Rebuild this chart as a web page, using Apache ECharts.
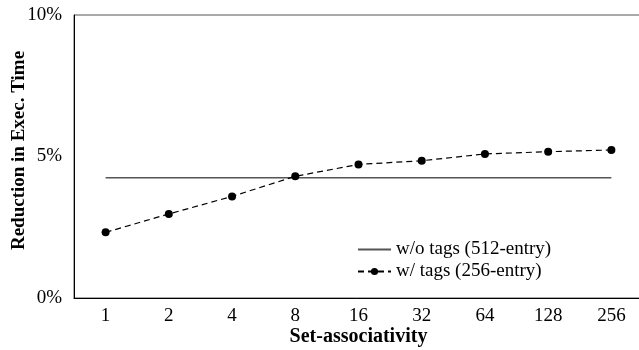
<!DOCTYPE html>
<html><head><meta charset="utf-8">
<script src="https://cdn.jsdelivr.net/npm/echarts@6/dist/echarts.min.js"></script>
<style>html,body{margin:0;padding:0;background:#fff}#c{width:639px;height:350px}</style>
</head><body><div id="c"></div>
<script>
var categories = ['1','2','4','8','16','32','64','128','256'];
var woTags = [4.25,4.25,4.25,4.25,4.25,4.25,4.25,4.25,4.25];
var wTags = [2.32,2.97,3.59,4.30,4.72,4.85,5.09,5.17,5.23];
var yTicks = [0,5,10];
var font = '"Liberation Serif","Times New Roman",serif';
var chart = echarts.init(document.getElementById('c'));
chart.setOption({
  animation:false,
  grid:{left:74,top:15,bottom:52,right:-4,outerBoundsMode:'none',containLabel:false,show:true,borderColor:'#555',borderWidth:1},
  legend:{orient:'vertical',left:352,top:235,itemWidth:33,itemHeight:9,itemGap:3,
    textStyle:{fontFamily:font,fontSize:19,color:'#000'},
    data:[{name:'w/o tags (512-entry)',itemStyle:{color:'transparent',borderWidth:0}},
          {name:'w/ tags (256-entry)'}]},
  xAxis:{type:'category',data:categories,boundaryGap:true,
    axisLine:{lineStyle:{color:'#000',width:1}},axisTick:{show:false},
    axisLabel:{fontFamily:font,fontSize:19,color:'#000',margin:9},
    name:'Set-associativity',nameLocation:'middle',nameGap:29,nameMoveOverlap:false,
    nameTextStyle:{fontFamily:font,fontSize:20,fontWeight:'bold',color:'#000'}},
  yAxis:{type:'value',min:yTicks[0],max:yTicks[2],interval:5,
    axisLine:{show:true,lineStyle:{color:'#000',width:1}},axisTick:{show:false},
    splitLine:{show:false},
    axisLabel:{fontFamily:font,fontSize:19,color:'#000',margin:12,formatter:'{value}%'},
    name:'Reduction in Exec. Time',nameLocation:'middle',nameGap:45,nameMoveOverlap:false,
    nameTextStyle:{fontFamily:font,fontSize:19,fontWeight:'bold',color:'#000',padding:[0,0,0,12]}},
  series:[
    {name:'w/o tags (512-entry)',type:'line',data:woTags,showSymbol:false,symbol:'none',
     lineStyle:{color:'#555',width:1.3},itemStyle:{color:'#555'}},
    {name:'w/ tags (256-entry)',type:'line',data:wTags,symbol:'circle',symbolSize:8,
     lineStyle:{color:'#000',width:1.2,type:[6,4]},itemStyle:{color:'#000'}}
  ]
});
</script></body></html>
